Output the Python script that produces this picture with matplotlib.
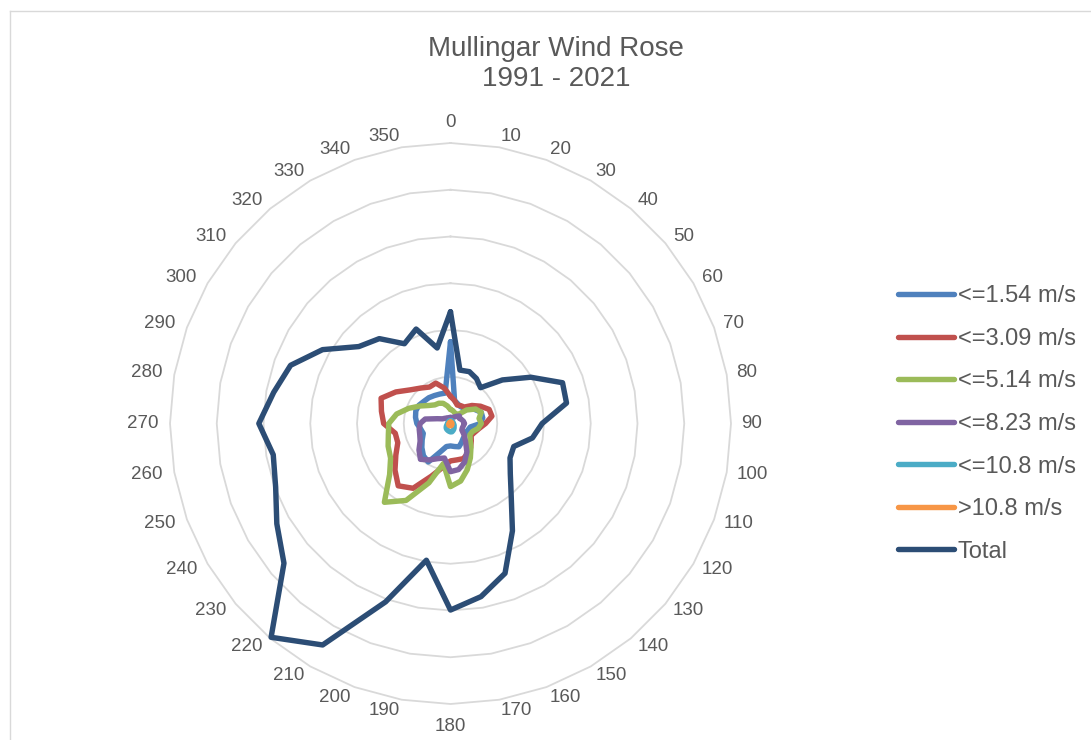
import numpy as np
import matplotlib
matplotlib.use("Agg")
import matplotlib.pyplot as plt
from matplotlib.lines import Line2D

# ---------------- data ----------------
directions = [0, 10, 20, 30, 40, 50, 60, 70, 80, 90, 100, 110, 120, 130, 140, 150, 160, 170,
              180, 190, 200, 210, 220, 230, 240, 250, 260, 270, 280, 290, 300, 310, 320, 330, 340, 350]
direction_labels = [str(d) for d in directions]

series_names = ["<=1.54 m/s", "<=3.09 m/s", "<=5.14 m/s", "<=8.23 m/s", "<=10.8 m/s", ">10.8 m/s", "Total"]

ws_1_54 = [1.75, 0.50, 0.45, 0.42, 0.43, 0.50, 0.60, 0.70, 0.70, 0.64, 0.43, 0.40, 0.38, 0.40, 0.42, 0.47, 0.53, 0.50,
           0.48, 0.50, 0.65, 0.95, 0.90, 0.80, 0.70, 0.62, 0.65, 0.72, 0.76, 0.79, 0.78, 0.74, 0.72, 0.69, 0.67, 0.66]
ws_3_09 = [0.58, 0.50, 0.42, 0.44, 0.46, 0.60, 0.74, 0.88, 0.90, 0.75, 0.62, 0.55, 0.51, 0.58, 0.67, 0.74, 0.80, 0.79,
           0.80, 0.95, 1.20, 1.60, 1.74, 1.55, 1.35, 1.20, 1.20, 1.43, 1.50, 1.58, 1.35, 1.12, 0.99, 0.90, 0.92, 0.77]
ws_5_14 = [0.30, 0.28, 0.25, 0.23, 0.25, 0.45, 0.62, 0.70, 0.62, 0.66, 0.60, 0.50, 0.48, 0.55, 0.68, 0.85, 1.05, 1.25,
           1.35, 0.87, 1.35, 1.90, 2.20, 1.70, 1.48, 1.42, 1.35, 1.32, 1.17, 0.95, 0.75, 0.60, 0.52, 0.50, 0.46, 0.38]
ws_8_23 = [0.13, 0.13, 0.14, 0.16, 0.20, 0.25, 0.22, 0.25, 0.28, 0.30, 0.28, 0.27, 0.28, 0.38, 0.50, 0.70, 0.88, 1.00,
           1.03, 0.75, 0.80, 0.90, 1.00, 0.88, 0.75, 0.70, 0.68, 0.65, 0.55, 0.30, 0.20, 0.17, 0.15, 0.14, 0.13, 0.13]
ws_10_8 = [0.06, 0.06, 0.06, 0.06, 0.06, 0.06, 0.06, 0.06, 0.06, 0.06, 0.07, 0.08, 0.09, 0.10, 0.12, 0.14, 0.16, 0.18,
           0.18, 0.17, 0.16, 0.15, 0.14, 0.12, 0.10, 0.08, 0.07, 0.06, 0.06, 0.06, 0.06, 0.06, 0.06, 0.06, 0.06, 0.06]
ws_gt_10_8 = [0.03, 0.03, 0.03, 0.03, 0.03, 0.03, 0.03, 0.03, 0.03, 0.03, 0.03, 0.03, 0.03, 0.03, 0.04, 0.04, 0.05, 0.05,
              0.05, 0.05, 0.05, 0.05, 0.05, 0.04, 0.04, 0.03, 0.03, 0.03, 0.03, 0.03, 0.03, 0.03, 0.03, 0.03, 0.03, 0.03]
total = [2.39, 1.16, 1.18, 1.11, 1.00, 1.45, 1.98, 2.55, 2.52, 1.96, 1.78, 1.44, 1.47, 1.67, 2.02, 2.65, 3.41, 3.76,
         3.99, 2.97, 4.06, 5.47, 5.97, 4.65, 4.29, 3.98, 3.85, 4.10, 3.84, 3.64, 3.16, 2.56, 2.37, 1.97, 2.15, 1.64]

grid_levels = [1, 2, 3, 4, 5, 6]

series_values = [ws_1_54, ws_3_09, ws_5_14, ws_8_23, ws_10_8, ws_gt_10_8, total]
series_colors = ["#4F81BD", "#C0504D", "#9BBB59", "#8064A2", "#4BACC6", "#F79646", "#2C4D75"]

# ---------------- figure ----------------
W, H = 1091, 740
fig = plt.figure(figsize=(W / 100, H / 100), dpi=100)
fig.patch.set_facecolor("white")
text_color = "#595959"
font = "Liberation Sans"

# chart-area border (top and left visible)
fig.add_artist(Line2D([10 / W, 1.0], [1 - 11 / H, 1 - 11 / H], color="#D9D9D9", lw=1.0))
fig.add_artist(Line2D([10 / W, 10 / W], [0, 1 - 11 / H], color="#D9D9D9", lw=1.0))

cx, cy, R = 450.5, 423.5, 280.5
ax = fig.add_axes([(cx - R) / W, (H - cy - R) / H, 2 * R / W, 2 * R / H], projection="polar")
ax.set_theta_zero_location("N")
ax.set_theta_direction(-1)
rmax = grid_levels[-1]
ax.set_ylim(0, rmax)
ax.grid(False)
ax.spines["polar"].set_visible(False)
ax.set_xticks([])
ax.set_yticks([])
ax.patch.set_alpha(0)

theta = np.deg2rad(directions)
theta_closed = np.append(theta, theta[0])

for lvl in grid_levels:
    ax.plot(theta_closed, [lvl] * len(theta_closed), color="#D9D9D9", lw=1.3, zorder=1, clip_on=False)

for name, vals, col in zip(series_names, series_values, series_colors):
    v = np.append(vals, vals[0])
    ax.plot(theta_closed, v, color=col, lw=3.9, label=name, solid_joinstyle="round",
            solid_capstyle="round", clip_on=False, zorder=3)

# direction labels
fs_tick = 13.5
for d, lab in zip(directions, direction_labels):
    t = np.deg2rad(d)
    s, c = np.sin(t), np.cos(t)
    if d == 0:
        ha, va, ox, oy = "center", "bottom", 0, 12
    elif d == 180:
        ha, va, ox, oy = "center", "top", 0, -14
    else:
        ha = "left" if s > 0 else "right"
        va = "center"
        ox = s * (10 if s > 0 else 12)
        oy = c * 11
    ax.annotate(lab, xy=(t, rmax), xytext=(ox, oy), textcoords="offset pixels",
                ha=ha, va=va, fontsize=fs_tick, color=text_color, family=font,
                annotation_clip=False)

# title
fig.text(556 / W, 1 - 63.5 / H, "Mullingar Wind Rose\n1991 - 2021", ha="center", va="center",
         fontsize=20, color=text_color, family=font, linespacing=1.2)

# legend
leg = ax.legend(loc="center left", bbox_to_anchor=(898 / W, 1 - 424 / H), bbox_transform=fig.transFigure,
                frameon=False, prop={"family": font, "size": 17}, handlelength=2.37,
                handletextpad=0.17, labelspacing=0.87, borderpad=0, borderaxespad=0)
for txt in leg.get_texts():
    txt.set_color(text_color)
for h in leg.get_lines():
    h.set_linewidth(3.9)

fig.savefig("out.png", dpi=100, facecolor="white")
